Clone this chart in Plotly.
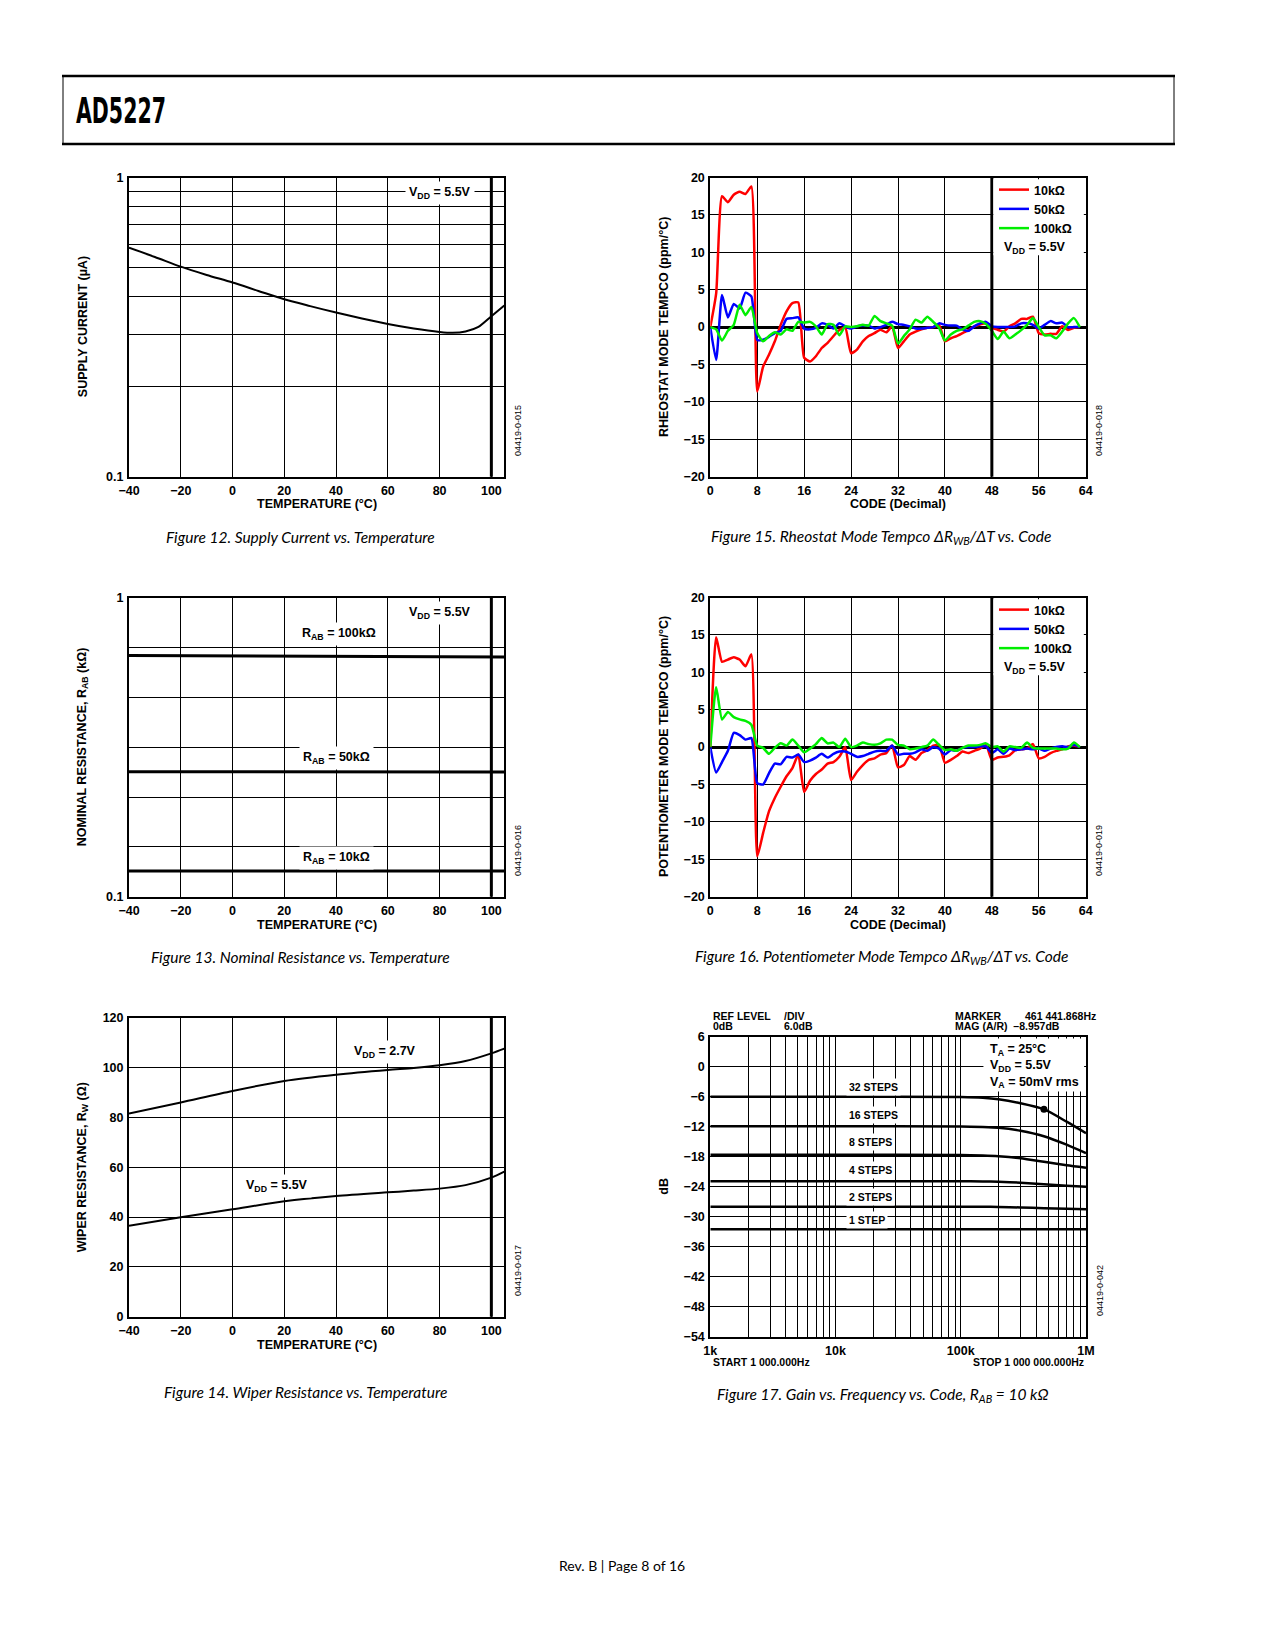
import math
import plotly.graph_objects as go

# ---------------- data ----------------
# Figure 12: supply current vs temperature
temp_sc = [-40, -30, -20, -10, 0, 10, 20, 30, 40, 50, 60, 70, 80, 85, 90, 95, 100, 105]
supply_current = [0.583, 0.543, 0.504, 0.473, 0.446, 0.418, 0.392, 0.372, 0.354, 0.338,
                  0.324, 0.313, 0.305, 0.303, 0.306, 0.317, 0.344, 0.374]

# Figure 13: nominal resistance vs temperature (as plotted on the 0.1..1 log axis)
temp_nr = [-40, 0, 40, 80, 105]
nr_100k = [0.641, 0.639, 0.637, 0.635, 0.633]
nr_50k = [0.262, 0.262, 0.261, 0.261, 0.261]
nr_10k = [0.122, 0.122, 0.122, 0.122, 0.122]

# Figure 14: wiper resistance vs temperature
temp_rw = [-40, -20, 0, 20, 40, 60, 70, 80, 90, 100, 105]
rw_27v = [81.5, 86.0, 90.6, 94.6, 97.1, 99.0, 99.8, 100.9, 102.6, 105.7, 107.6]
rw_55v = [36.5, 39.9, 43.1, 46.3, 48.4, 49.9, 50.6, 51.4, 52.8, 55.8, 58.2]

# Figures 15/16: tempco vs code
code = list(range(64))
rh_10k = [0, 4.5, 17.5, 16.7, 17.7, 18.1, 17.8, 18.8, -8.6, -5.3, -3.7, -1.9, 0.3, 2.1, 3.2, 3.3,
          -4.1, -4.6, -3.9, -2.8, -2.1, -1.2, -0.4, -0.05, -3.5, -3.0, -1.9, -1.2, -0.8, -0.35, -0.7, 0.1,
          -2.8, -1.9, -1.0, -0.6, -0.3, -0.1, 0.0, 0.3, -1.9, -1.5, -1.2, -0.8, -0.4, 0.1, 0.35, 0.5,
          -0.1, -0.35, -0.6, 0.1, 0.5, 1.1, 1.1, 1.4, -0.8, -1.0, -0.9, -0.9, 0.1, -0.4, -0.1, 0.0]
rh_50k = [0, -4.4, 4.3, 1.3, 3.1, 2.5, 4.6, 4.1, -1.7, -1.7, -1.3, -0.8, -0.5, 1.1, 1.2, 1.3,
          -0.2, -0.3, -0.1, 0.5, 0.3, -0.2, 0.5, 0.1, -0.2, 0.1, 0.2, 0.2, -0.2, 0.0, 0.3, 0.7,
          0.4, 0.3, 0.1, -0.2, -0.2, -0.1, 0.0, 0.5, 0.3, 0.2, 0.2, -0.3, -0.5, 0.1, 0.5, 0.7,
          0.1, 0.0, 0.0, 0.0, 0.1, 0.5, 0.5, 0.3, -0.2, 0.3, 0.8, 0.5, 0.6, 0.0, 0.0, 0.0]
rh_100k = [0, -0.3, -1.8, -0.5, 0.3, 3.0, 1.6, 2.7, -0.8, -1.9, -1.2, -0.7, -1.0, -0.3, -0.5, 0.7,
           0.6, 0.7, 0.1, -1.0, 0.4, 0.3, -1.1, 0.1, 0.0, 0.1, 0.3, 0.2, 1.5, 0.8, 0.5, 0.2,
           -2.2, -1.2, -0.3, 1.0, 0.6, 1.4, 0.7, -0.1, -1.8, -1.0, -0.5, -0.3, 0.2, 0.7, 0.8, 0.4,
           -0.5, -1.6, -0.6, -1.5, -1.0, -0.4, 0.3, 1.2, 0.0, -1.1, -1.1, -1.5, -0.6, 0.5, 1.2, 0.0]
pt_10k = [0, 14.7, 11.4, 11.7, 12.0, 11.7, 10.8, 12.4, -14.6, -11.5, -8.6, -6.8, -5.3, -3.9, -2.8, -1.0,
          -6.0, -4.5, -3.6, -3.0, -2.2, -2.0, -1.3, 0.0, -4.4, -3.3, -2.4, -1.7, -1.5, -1.0, -0.8, 0.2,
          -2.7, -2.4, -1.2, -1.7, -0.8, -0.4, 0.2, 0.3, -2.1, -1.7, -1.2, -0.6, -0.8, -0.5, -0.2, 0.3,
          -1.7, -1.4, -1.3, -1.1, -0.4, -0.3, -0.2, 0.4, -1.5, -1.3, -0.8, -0.5, -0.3, 0.1, 0.2, 0.0]
pt_50k = [0, -3.4, -2.0, -0.5, 1.9, 1.6, 1.0, 1.2, -4.8, -5.0, -3.5, -2.2, -2.3, -1.3, -1.4, -1.0,
          -2.0, -1.8, -1.4, -0.9, -1.4, -0.9, -0.6, -0.6, -0.9, -1.3, -1.2, -0.9, -0.6, -0.5, -0.5, 0.2,
          -1.0, -0.9, -0.9, -0.7, -0.3, -0.5, 0.0, -0.2, -1.0, -0.4, -0.5, -0.1, 0.0, 0.0, 0.1, 0.1,
          -0.8, -0.3, -0.9, -0.2, -0.4, -0.3, -0.2, -0.3, -0.2, -0.5, -0.2, 0.0, 0.1, 0.0, 0.3, 0.0]
pt_100k = [0, 8.0, 3.7, 4.7, 4.0, 3.7, 3.5, 3.0, 0.2, -0.1, -0.9, -0.1, 0.5, 0.2, 1.0, 0.2,
           -0.7, -0.2, 0.4, 1.2, 0.5, 0.6, 0.0, 1.1, 0.0, 0.2, 0.6, 0.4, 0.3, 0.5, 1.0, 1.0,
           0.3, 0.2, -0.3, -0.2, 0.0, 0.2, 1.0, 0.3, -0.4, -0.3, -0.5, -0.1, 0.2, 0.2, 0.3, 0.5,
           0.0, 0.1, -0.6, 0.1, 0.0, -0.1, 0.6, -0.1, -0.2, -0.2, -0.2, -0.2, -0.3, -0.2, 0.6, 0.0]

# Figure 17: gain vs frequency
freq = [1e3, 1e4, 1e5, 1.5e5, 2e5, 3e5, 4.61e5, 7e5, 1e6]
gain_32 = [-6.0, -6.0, -6.05, -6.2, -6.5, -7.3, -8.5, -11.0, -13.3]
gain_16 = [-11.9, -11.9, -11.95, -12.05, -12.2, -12.8, -13.9, -15.6, -17.3]
gain_8 = [-17.6, -17.6, -17.65, -17.75, -17.9, -18.3, -19.0, -19.7, -20.2]
gain_4 = [-22.9, -22.9, -22.9, -22.95, -23.0, -23.2, -23.5, -23.8, -24.0]
gain_2 = [-28.0, -28.0, -28.0, -28.0, -28.05, -28.15, -28.3, -28.4, -28.5]
gain_1 = [-32.5, -32.5, -32.5, -32.5, -32.5, -32.5, -32.5, -32.5, -32.5]
marker_freq = [461441.868]
marker_gain = [-8.5]

temp_ticks = [-40, -20, 0, 20, 40, 60, 80, 100]
temp_labels = ["−40", "−20", "0", "20", "40", "60", "80", "100"]
code_ticks = [0, 8, 16, 24, 32, 40, 48, 56, 64]
tempco_ticks = [-20, -15, -10, -5, 0, 5, 10, 15, 20]
tempco_labels = ["−20", "−15", "−10", "−5", "0", "5", "10", "15", "20"]
db_ticks = [-54, -48, -42, -36, -30, -24, -18, -12, -6, 0, 6]
db_labels = ["−54", "−48", "−42", "−36", "−30", "−24", "−18", "−12", "−6", "0", "6"]
log_ticks = [0.1, 1]
log_labels = ["0.1", "1"]
freq_ticks = [1e3, 1e4, 1e5, 1e6]
freq_labels = ["1k", "10k", "100k", "1M"]

# ---------------- layout helpers ----------------
W, H = 1275, 1650
def px(v): return v / W
def py(v): return 1 - v / H

FONT = "Liberation Sans, Arial, Helvetica, sans-serif"
CAP = "Lato, Open Sans, sans-serif"

# plot boxes in page pixels (left, right, top, bottom)
boxes = {
    1: (129, 504.3, 177.7, 476.7),    # Fig 12
    2: (710.3, 1085.7, 177.5, 476.7), # Fig 15
    3: (129, 504.3, 597.7, 896.7),    # Fig 13
    4: (710.3, 1085.7, 597.5, 896.7), # Fig 16
    5: (129, 504.3, 1017.7, 1316.7),  # Fig 14
    6: (710.3, 1086, 1036.7, 1336.7), # Fig 17
}

tickfont = dict(family=FONT, size=12.5, color="black", weight="bold")

def axis(**kw):
    d = dict(showline=True, mirror=True, linecolor="black", linewidth=2,
             showgrid=True, gridcolor="black", gridwidth=1, zeroline=False, automargin=False,
             ticks="", tickfont=tickfont, ticklabelstandoff=1, fixedrange=True)
    d.update(kw)
    return d

def minor_grid(vals):
    return dict(tickvals=vals, showgrid=True, gridcolor="black", gridwidth=1, ticks="")

fig = go.Figure()

# ---- Fig 12 ----
fig.add_trace(go.Scatter(x=temp_sc, y=supply_current, mode="lines",
                         line=dict(color="black", width=2, shape="spline", smoothing=0.8),
                         xaxis="x", yaxis="y", showlegend=False))
# ---- Fig 13 ----
for ys in (nr_100k, nr_50k, nr_10k):
    fig.add_trace(go.Scatter(x=temp_nr, y=ys, mode="lines", line=dict(color="black", width=3),
                             xaxis="x3", yaxis="y3", showlegend=False))
# ---- Fig 14 ----
for ys in (rw_27v, rw_55v):
    fig.add_trace(go.Scatter(x=temp_rw, y=ys, mode="lines",
                             line=dict(color="black", width=2, shape="spline", smoothing=0.8),
                             xaxis="x5", yaxis="y5", showlegend=False))
# ---- Fig 15 / 16 ----
series_cols = [("10kΩ", "#ff0000"), ("50kΩ", "#0000ff"), ("100kΩ", "#00ee00")]
for (name, col), ys in zip(series_cols, (rh_10k, rh_50k, rh_100k)):
    fig.add_trace(go.Scatter(x=code, y=ys, mode="lines", name=name,
                             line=dict(color=col, width=2.5, shape="spline", smoothing=0.5),
                             xaxis="x2", yaxis="y2", legend="legend"))
for (name, col), ys in zip(series_cols, (pt_10k, pt_50k, pt_100k)):
    fig.add_trace(go.Scatter(x=code, y=ys, mode="lines", name=name,
                             line=dict(color=col, width=2.5, shape="spline", smoothing=0.5),
                             xaxis="x4", yaxis="y4", legend="legend2"))
# ---- Fig 17 ----
for ys in (gain_32, gain_16, gain_8, gain_4, gain_2, gain_1):
    fig.add_trace(go.Scatter(x=freq, y=ys, mode="lines",
                             line=dict(color="black", width=2.5, shape="spline", smoothing=0.6),
                             xaxis="x6", yaxis="y6", showlegend=False))
fig.add_trace(go.Scatter(x=marker_freq, y=marker_gain, mode="markers",
                         marker=dict(color="black", size=7), xaxis="x6", yaxis="y6",
                         showlegend=False))

# ---------------- axes ----------------
lay = dict(width=W, height=H, margin=dict(l=0, r=0, t=0, b=0, pad=0, autoexpand=False),
           paper_bgcolor="white", plot_bgcolor="white")

def dom(i):
    l, r, t, b = boxes[i]
    return [px(l), px(r)], [py(b), py(t)]

sc_minor = [0.2, 0.3, 0.4, 0.5, 0.6, 0.7, 0.8, 0.9]
nr_minor = [10 ** (-k / 6) for k in range(5, 0, -1)]
f_minor = [m * 10 ** e for e in (3, 4, 5) for m in range(2, 10)]

for i in range(1, 7):
    xd, yd = dom(i)
    s = "" if i == 1 else str(i)
    if i in (1, 3, 5):
        xa = axis(domain=xd, anchor="y" + s, range=[-40, 105], tickvals=temp_ticks, ticktext=temp_labels)
    elif i in (2, 4):
        xa = axis(domain=xd, anchor="y" + s, range=[0, 64], tickvals=code_ticks)
    else:
        xa = axis(domain=xd, anchor="y" + s, type="log", range=[3, 6], tickvals=freq_ticks,
                  ticktext=freq_labels, minor=minor_grid(f_minor))
    if i == 1:
        ya = axis(domain=yd, anchor="x" + s, type="log", range=[-1, 0], tickvals=log_ticks,
                  ticktext=log_labels, minor=minor_grid(sc_minor))
    elif i == 3:
        ya = axis(domain=yd, anchor="x" + s, type="log", range=[-1, 0], tickvals=log_ticks,
                  ticktext=log_labels, minor=minor_grid(nr_minor))
    elif i == 5:
        ya = axis(domain=yd, anchor="x" + s, range=[0, 120], tickvals=[0, 20, 40, 60, 80, 100, 120])
    elif i in (2, 4):
        ya = axis(domain=yd, anchor="x" + s, range=[-20, 20], tickvals=tempco_ticks, ticktext=tempco_labels,
                  zeroline=True, zerolinecolor="black", zerolinewidth=2.5)
    else:
        ya = axis(domain=yd, anchor="x" + s, range=[-54, 6], tickvals=db_ticks, ticktext=db_labels)
    lay["xaxis" + s] = xa
    lay["yaxis" + s] = ya

legfont = dict(family=FONT, size=12.5, color="black", weight="bold")
lay["legend"] = dict(x=px(994), y=py(175), xanchor="left", yanchor="top", bgcolor="rgba(0,0,0,0)",
                     font=legfont, tracegroupgap=0, itemwidth=30, borderwidth=0)
lay["legend2"] = dict(x=px(994), y=py(595), xanchor="left", yanchor="top", bgcolor="rgba(0,0,0,0)",
                      font=legfont, tracegroupgap=0, itemwidth=30, borderwidth=0)

# ---------------- shapes ----------------
shapes = []
# header box
shapes.append(dict(type="rect", xref="paper", yref="paper", x0=px(63), x1=px(1174), y0=py(144), y1=py(76),
                   line=dict(color="black", width=1)))
for yy in (76, 144):
    shapes.append(dict(type="line", xref="paper", yref="paper", x0=px(62), x1=px(1175), y0=py(yy), y1=py(yy),
                       line=dict(color="black", width=2.5)))
# thick vertical lines at 100 °C
for s in ("", "3", "5"):
    shapes.append(dict(type="line", xref="x" + s, yref="y" + s + " domain", x0=100, x1=100, y0=0, y1=1,
                       line=dict(color="black", width=3)))
shapes.append(dict(type="line", xref="x domain", yref="y", x0=0, x1=1, y0=math.log10(0.5), y1=math.log10(0.5),
                   line=dict(color="black", width=2.2)))
# thick vertical lines at code 48 and legend boxes
for s in ("2", "4"):
    shapes.append(dict(type="line", xref="x" + s, yref="y" + s + " domain", x0=48, x1=48, y0=0, y1=1,
                       line=dict(color="black", width=3)))
    shapes.append(dict(type="rect", xref="x" + s + " domain", yref="y" + s + " domain",
                       x0=0.754, x1=0.995, y0=0.74, y1=0.994, fillcolor="white",
                       line=dict(width=0), layer="above"))
# fig 17 heavier lines and box
for lv in (math.log10(7e3), 4, math.log10(7e4), 5, math.log10(5.6e5)):
    shapes.append(dict(type="line", xref="x6", yref="y6 domain", x0=lv, x1=lv, y0=0, y1=1,
                       line=dict(color="black", width=2.5)))
shapes.append(dict(type="rect", xref="x6 domain", yref="y6 domain", x0=0.727, x1=0.995, y0=0.817, y1=0.994,
                   fillcolor="white", line=dict(width=0), layer="above"))
lay["shapes"] = shapes

# ---------------- annotations ----------------
ann = []
def A(text, x, y, xref="paper", yref="paper", size=12.5, bold=True, xanchor="center", yanchor="middle",
      bg=None, angle=0, family=FONT, italic=False, align="center", pad=1):
    d = dict(text=text, x=x, y=y, xref=xref, yref=yref, showarrow=False, xanchor=xanchor, yanchor=yanchor,
             textangle=angle, align=align, borderpad=pad,
             font=dict(family=family, size=size, color="black",
                       weight="bold" if bold else "normal", style="italic" if italic else "normal"))
    if bg:
        d["bgcolor"] = bg
    ann.append(d)

# header / footer
A("AD5227", px(121), py(110.5), xanchor="center", size=36, family="DejaVu Sans, sans-serif")
A("Rev. B | Page 8 of 16", px(622), py(1565), size=14, bold=False, family=CAP)

# axis titles
def titles(i, xt, yt, xt_y, yt_x):
    l, r, t, b = boxes[i]
    if xt:
        A(xt, px((l + r) / 2), py(xt_y))
    A(yt, px(yt_x), py((t + b) / 2), angle=-90)

titles(1, "TEMPERATURE (°C)", "SUPPLY CURRENT (µA)", 504, 83)
titles(3, "TEMPERATURE (°C)", "NOMINAL RESISTANCE, R<sub>AB</sub> (kΩ)", 925, 83)
titles(5, "TEMPERATURE (°C)", "WIPER RESISTANCE, R<sub>W</sub> (Ω)", 1345, 83)
titles(2, "CODE (Decimal)", "RHEOSTAT MODE TEMPCO (ppm/°C)", 504, 664)
titles(4, "CODE (Decimal)", "POTENTIOMETER MODE TEMPCO (ppm/°C)", 925, 664)
titles(6, "", "dB", 1362, 664)

# captions
cap = dict(size=15.5, bold=False, italic=True, family=CAP)
A("Figure 12. Supply Current vs. Temperature", px(300), py(537), **cap)
A("Figure 15. Rheostat Mode Tempco ΔR<sub>WB</sub>/ΔT vs. Code", px(881), py(537), **cap)
A("Figure 13. Nominal Resistance vs. Temperature", px(300), py(957), **cap)
A("Figure 16. Potentiometer Mode Tempco ΔR<sub>WB</sub>/ΔT vs. Code", px(881), py(957), **cap)
A("Figure 14. Wiper Resistance vs. Temperature", px(305), py(1392), **cap)
A("Figure 17. Gain vs. Frequency vs. Code, R<sub>AB</sub> = 10 kΩ", px(882), py(1395), **cap)

# drawing numbers
for txt, xx, yy in (("04419-0-015", 518, 431), ("04419-0-018", 1099, 431), ("04419-0-016", 518, 851),
                    ("04419-0-019", 1099, 851), ("04419-0-017", 518, 1271), ("04419-0-042", 1100, 1291)):
    A(txt, px(xx), py(yy), size=9, bold=False, angle=-90)

# in-plot labels
A("V<sub>DD</sub> = 5.5V", 80, math.log10(0.89), xref="x", yref="y", bg="white", pad=3)
A("V<sub>DD</sub> = 5.5V", 80, -0.05, xref="x3", yref="y3", bg="white", pad=3)
A("R<sub>AB</sub> = 100kΩ", 41, -0.123, xref="x3", yref="y3", bg="white", pad=3)
A("R<sub>AB</sub> = 50kΩ", 40, -0.537, xref="x3", yref="y3", bg="white", pad=3)
A("R<sub>AB</sub> = 10kΩ", 40, -0.870, xref="x3", yref="y3", bg="white", pad=3)
A("V<sub>DD</sub> = 2.7V", 59, 106.4, xref="x5", yref="y5", bg="white", pad=3)
A("V<sub>DD</sub> = 5.5V", 17, 52.4, xref="x5", yref="y5", bg="white", pad=3)
A("V<sub>DD</sub> = 5.5V", 49.7, 10.6, xref="x2", yref="y2", xanchor="left")
A("V<sub>DD</sub> = 5.5V", 49.7, 10.6, xref="x4", yref="y4", xanchor="left")

# fig 17 texts
for lab, yv in (("32 STEPS", -4.1), ("16 STEPS", -9.7), ("8 STEPS", -15.1),
                ("4 STEPS", -20.7), ("2 STEPS", -26.1), ("1 STEP", -30.7)):
    A(lab, 4.085, yv, xref="x6", yref="y6", size=10.5, xanchor="left", bg="white", pad=2)
A("T<sub>A</sub> = 25°C<br>V<sub>DD</sub> = 5.5V<br>V<sub>A</sub> = 50mV rms", 5.22, 5.3, xref="x6", yref="y6",
  size=12.5, xanchor="left", yanchor="top", align="left")
sm = dict(size=10.5, xanchor="left")
A("REF LEVEL", px(711), py(1015.5), **sm)
A("0dB", px(711), py(1026), **sm)
A("/DIV", px(781.5), py(1015.5), **sm)
A("6.0dB", px(781.5), py(1026), **sm)
A("MARKER", px(953), py(1015.5), **sm)
A("461 441.868Hz", px(1022.5), py(1015.5), **sm)
A("MAG (A/R)  –8.957dB", px(953), py(1026), **sm)
A("START 1 000.000Hz", px(711), py(1362), **sm)
A("STOP 1 000 000.000Hz", px(1086), py(1362), size=10.5, xanchor="right")

lay["annotations"] = ann
fig.update_layout(**lay)

post = """
document.body.style.margin='0';
document.body.style.overflow='hidden';
function fixHeader(){
  document.querySelectorAll('text.annotation-text').forEach(function(t){
    if((t.textContent||'').trim()==='AD5227'){
      t.setAttribute('textLength','90');
      t.setAttribute('lengthAdjust','spacingAndGlyphs');
    }
  });
}
fixHeader();
setTimeout(fixHeader, 300);
"""
fig.write_html("out.html", post_script=post, config={"displayModeBar": False})
